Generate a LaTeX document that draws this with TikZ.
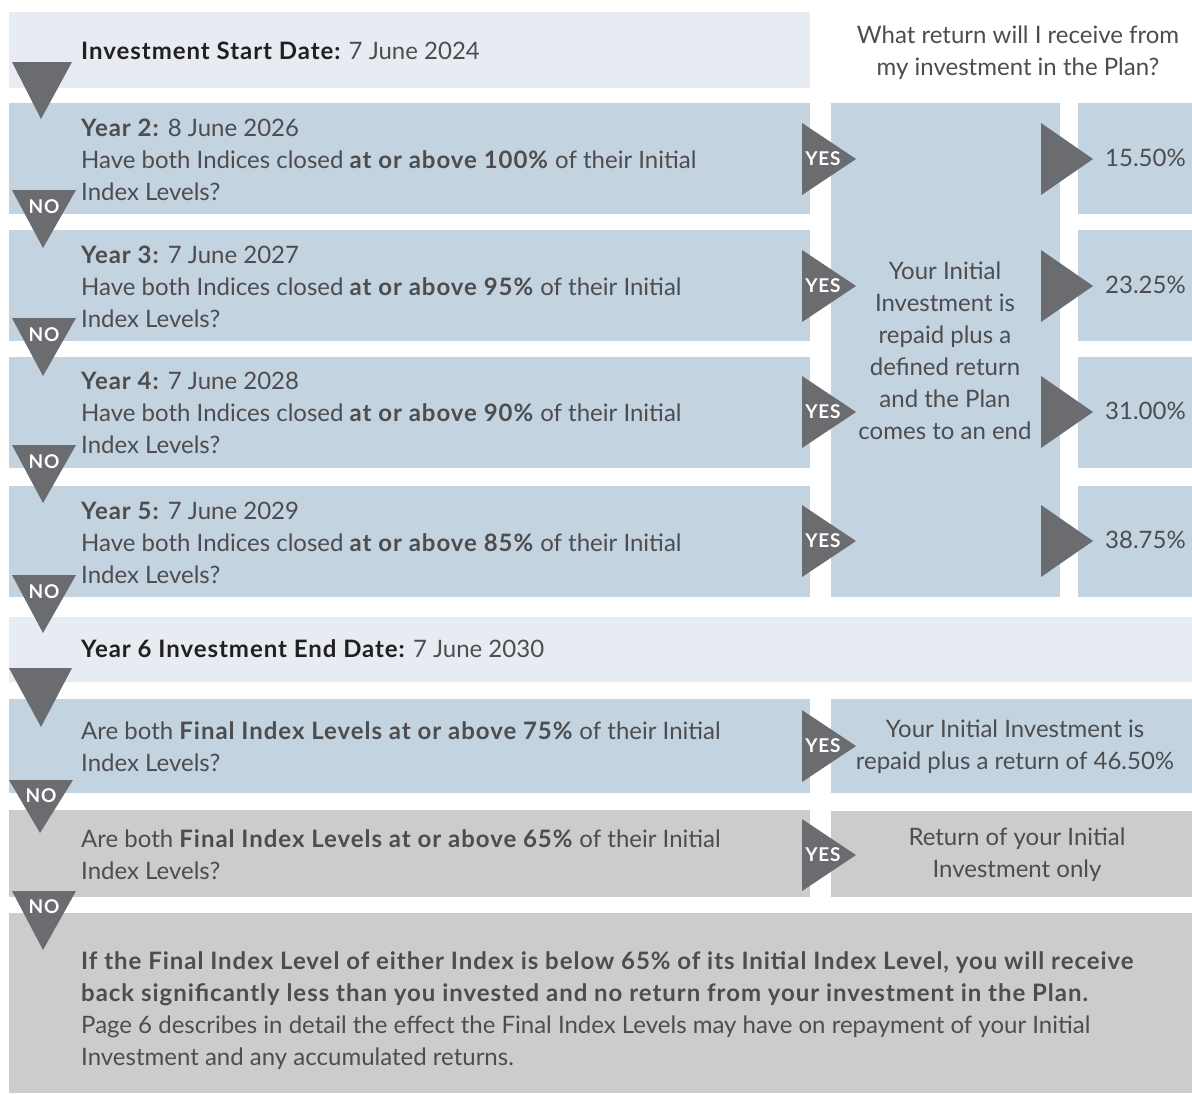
\documentclass[tikz,border=0pt]{standalone}
\usepackage{fontspec}
\setmainfont{Lato}[BoldFeatures={LetterSpace=4}]
\definecolor{pale}{HTML}{E7ECF3}
\definecolor{steel}{HTML}{C3D3E0}
\definecolor{ash}{HTML}{CBCCCC}
\definecolor{arrowgrey}{HTML}{6B6C70}
\definecolor{ink}{HTML}{4D4D4F}
\definecolor{dark}{HTML}{231F20}
\begin{document}
\begin{tikzpicture}[x=1pt,y=-1pt,
  txt/.style={anchor=west,align=left,inner sep=0pt,text=ink,font=\fontsize{24}{32}\selectfont},
  ctxt/.style={align=center,inner sep=0pt,text=ink,font=\fontsize{24}{32}\selectfont},
  tag/.style={inner sep=0pt,text=white,font=\bfseries\fontsize{19}{19}\selectfont}]
\useasboundingbox (0,0) rectangle (1192,1095);
\fill[white] (0,0) rectangle (1192,1095);
\fill[pale] (9,12) rectangle (810,88);
\fill[steel] (9,103) rectangle (810,214);
\fill[steel] (9,230) rectangle (810,341);
\fill[steel] (9,357) rectangle (810,468);
\fill[steel] (9,486) rectangle (810,597);
\fill[steel] (831,103) rectangle (1060,597);
\fill[steel] (1078,103) rectangle (1192,214);
\fill[steel] (1078,230) rectangle (1192,341);
\fill[steel] (1078,357) rectangle (1192,468);
\fill[steel] (1078,486) rectangle (1192,597);
\fill[pale] (9,617) rectangle (1192,682);
\fill[steel] (9,699) rectangle (810,793);
\fill[steel] (831,699) rectangle (1192,793);
\fill[ash] (9,810) rectangle (810,897);
\fill[ash] (831,811) rectangle (1192,897);
\fill[ash] (9,913) rectangle (1192,1093);
\fill[arrowgrey] (12,62) -- (72,62) -- (41,119) -- cycle;
\fill[arrowgrey] (12,190) -- (76,190) -- (43,248) -- cycle;
\fill[arrowgrey] (12,318) -- (76,318) -- (43,376) -- cycle;
\fill[arrowgrey] (12,445) -- (76,445) -- (43,503) -- cycle;
\fill[arrowgrey] (12,575) -- (76,575) -- (43,633) -- cycle;
\fill[arrowgrey] (9,668) -- (72,668) -- (41,727) -- cycle;
\fill[arrowgrey] (9,780) -- (73,780) -- (40,833) -- cycle;
\fill[arrowgrey] (12,891) -- (76,891) -- (43,950) -- cycle;
\node[tag] (no2) at (44,207) {NO};
\node[tag] (no3) at (44,335) {NO};
\node[tag] (no4) at (44,462) {NO};
\node[tag] (no5) at (44,592) {NO};
\node[tag] (no6) at (41,796) {NO};
\node[tag] (no7) at (44,907) {NO};
\fill[arrowgrey] (802,123) -- (856,159) -- (802,195) -- cycle;
\fill[arrowgrey] (802,250) -- (856,286) -- (802,322) -- cycle;
\fill[arrowgrey] (802,376) -- (856,412) -- (802,448) -- cycle;
\fill[arrowgrey] (802,505) -- (856,541) -- (802,577) -- cycle;
\fill[arrowgrey] (802,710) -- (856,746) -- (802,782) -- cycle;
\fill[arrowgrey] (802,819) -- (856,855) -- (802,891) -- cycle;
\node[tag] (yes2) at (823,159) {YES};
\node[tag] (yes3) at (823,286) {YES};
\node[tag] (yes4) at (823,412) {YES};
\node[tag] (yes5) at (823,541) {YES};
\node[tag] (yes6) at (823,746) {YES};
\node[tag] (yes7) at (823,855) {YES};
\fill[arrowgrey] (1041,123) -- (1093,159) -- (1041,195) -- cycle;
\fill[arrowgrey] (1041,250) -- (1093,286) -- (1041,322) -- cycle;
\fill[arrowgrey] (1041,376) -- (1093,412) -- (1041,448) -- cycle;
\fill[arrowgrey] (1041,505) -- (1093,541) -- (1041,577) -- cycle;
\node[txt] (start) at (81,51) {\textbf{\color{dark}Investment Start Date:} 7 June 2024};
\node[ctxt] (ask) at (1018,53) {What return will I receive from\\my investment in the Plan?};
\node[txt] (q2) at (81,160) {\textbf{Year 2:} 8 June 2026\\Have both Indices closed \textbf{at or above 100\%} of their Initial\\Index Levels?};
\node[txt] (q3) at (81,287) {\textbf{Year 3:} 7 June 2027\\Have both Indices closed \textbf{at or above 95\%} of their Initial\\Index Levels?};
\node[txt] (q4) at (81,413) {\textbf{Year 4:} 7 June 2028\\Have both Indices closed \textbf{at or above 90\%} of their Initial\\Index Levels?};
\node[txt] (q5) at (81,543) {\textbf{Year 5:} 7 June 2029\\Have both Indices closed \textbf{at or above 85\%} of their Initial\\Index Levels?};
\node[ctxt] (early) at (945,351) {Your Initial\\Investment is\\repaid plus a\\defined return\\and the Plan\\comes to an end};
\node[txt,anchor=east] (r2) at (1186,158) {15.50\%};
\node[txt,anchor=east] (r3) at (1186,285) {23.25\%};
\node[txt,anchor=east] (r4) at (1186,411) {31.00\%};
\node[txt,anchor=east] (r5) at (1186,540) {38.75\%};
\node[txt] (finish) at (81,649) {\textbf{\color{dark}Year 6 Investment End Date:} 7 June 2030};
\node[txt] (q6) at (81,747) {Are both \textbf{Final Index Levels at or above 75\%} of their Initial\\Index Levels?};
\node[ctxt] (r6) at (1015,747) {Your Initial Investment is\\repaid plus a return of 46.50\%};
\node[txt] (q7) at (81,855) {Are both \textbf{Final Index Levels at or above 65\%} of their Initial\\Index Levels?};
\node[ctxt] (r7) at (1017,855) {Return of your Initial\\Investment only};
\node[txt] (loss) at (81,1011) {\textbf{If the Final Index Level of either Index is below 65\% of its Initial Index Level, you will receive}\\\textbf{back significantly less than you invested and no return from your investment in the Plan.}\\Page 6 describes in detail the effect the Final Index Levels may have on repayment of your Initial\\Investment and any accumulated returns.};
\end{tikzpicture}
\end{document}
